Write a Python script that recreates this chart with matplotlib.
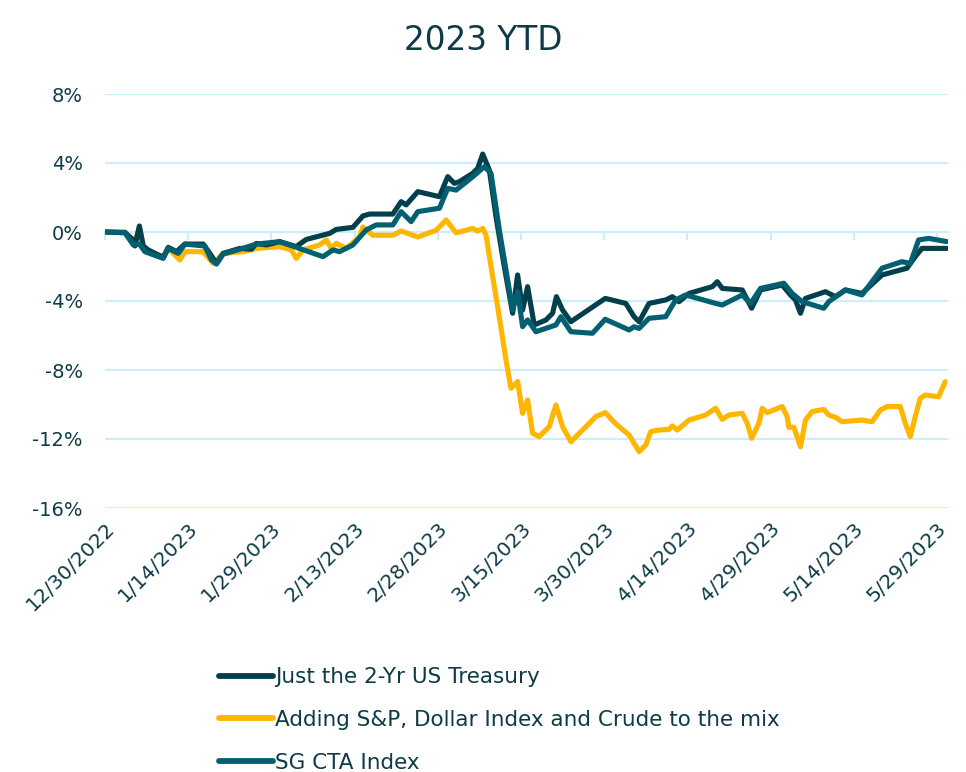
import matplotlib
matplotlib.use("Agg")
import matplotlib.pyplot as plt
from matplotlib.lines import Line2D

# ---- data (x = days since 12/30/2022, y = % return) ----
tick_labels = ["12/30/2022", "1/14/2023", "1/29/2023", "2/13/2023", "2/28/2023",
               "3/15/2023", "3/30/2023", "4/14/2023", "4/29/2023", "5/14/2023", "5/29/2023"]
tick_days = [0, 15, 30, 45, 60, 75, 90, 105, 120, 135, 150]

treasury_days = [0, 3.6, 5.1, 5.4, 6.2, 6.9, 7.8, 10.5, 11.4, 12.9, 14.4, 17.7, 18.9, 20.1,
                 21.3, 24.3, 26.4, 27.3, 29.1, 31.5, 34.5, 35.1, 36.3, 40.5, 41.7, 44.7,
                 46.5, 47.7, 51.9, 53.4, 54.3, 56.4, 60.3, 61.8, 63.0, 63.9, 66.3, 67.2,
                 68.1, 69.3, 70.5, 72.0, 73.5, 74.4, 75.3, 76.2, 77.4, 79.5, 80.7, 81.4,
                 82.5, 84.0, 90.2, 93.9, 95.4, 96.3, 98.1, 101.1, 102.3, 103.5, 105.3,
                 109.5, 110.4, 111.3, 114.9, 116.6, 118.2, 122.1, 123.6, 124.5, 125.4,
                 126.3, 129.9, 131.7, 133.5, 136.5, 140.1, 144.6, 146.1, 147.3, 151.8]
treasury_vals = [0, -0.03, -0.46, -0.81, 0.35, -0.81, -1.04, -1.47, -0.89, -1.14, -0.70, -0.70,
                 -1.24, -1.82, -1.24, -0.95, -1.0, -0.66, -0.75, -0.56, -0.85, -0.70, -0.43,
                 -0.08, 0.15, 0.27, 0.93, 1.04, 1.04, 1.76, 1.57, 2.34, 2.05, 3.21, 2.82, 2.92,
                 3.40, 3.69, 4.52, 3.59, 0.89, -2.01, -4.71, -2.49, -4.52, -3.17, -5.39, -5.10,
                 -4.71, -3.75, -4.52, -5.2, -3.85, -4.14, -4.91, -5.2, -4.14, -3.94, -3.75,
                 -4.04, -3.56, -3.17, -2.88, -3.27, -3.36, -4.42, -3.36, -3.07, -3.65, -3.94,
                 -4.71, -3.85, -3.46, -3.75, -3.36, -3.56, -2.49, -2.1, -1.43, -0.95, -0.95]

mix_days = [0, 3.6, 5.1, 5.7, 6.2, 6.9, 7.8, 10.5, 11.4, 13.5, 14.4, 17.7, 19.5, 21.3, 25.0,
            27.3, 31.5, 33.6, 34.5, 35.7, 38.7, 39.9, 40.8, 41.7, 43.5, 45.9, 46.5, 48.3,
            51.9, 53.4, 56.4, 59.7, 61.5, 63.3, 66.3, 67.2, 68.1, 68.7, 69.6, 70.8, 72.3,
            73.2, 74.4, 75.3, 76.2, 77.1, 78.3, 80.1, 81.3, 82.5, 84.0, 87.9, 88.5, 90.2,
            92.0, 94.5, 96.3, 97.5, 98.4, 99.9, 101.7, 102.3, 103.2, 105.3, 108.3, 110.1,
            111.3, 112.5, 114.9, 115.8, 116.6, 117.9, 118.5, 119.4, 122.1, 123.0, 123.3,
            124.2, 125.4, 126.3, 127.5, 129.6, 130.5, 131.7, 132.9, 136.5, 138.3, 139.8,
            141.0, 143.4, 144.3, 145.2, 146.1, 147.0, 147.9, 150.3, 151.5]
mix_vals = [0, 0, -0.58, -0.29, 0.29, -0.85, -1.14, -1.43, -0.95, -1.62, -1.14, -1.14, -1.82,
            -1.24, -1.14, -0.95, -0.85, -1.04, -1.53, -1.04, -0.75, -0.46, -0.95, -0.66,
            -0.95, -0.29, 0.29, -0.19, -0.19, 0.06, -0.29, 0.10, 0.70, -0.05, 0.21, 0.05,
            0.21, -0.17, -2.01, -4.33, -7.42, -9.06, -8.67, -10.51, -9.74, -11.67, -11.86,
            -11.28, -10.03, -11.28, -12.16, -10.9, -10.7, -10.47, -11.09, -11.77, -12.73,
            -12.35, -11.57, -11.48, -11.44, -11.24, -11.48, -10.9, -10.61, -10.22, -10.86,
            -10.61, -10.51, -11.09, -11.96, -11.09, -10.22, -10.47, -10.12, -10.7, -11.32,
            -11.32, -12.45, -10.9, -10.41, -10.28, -10.61, -10.74, -11.0, -10.9, -11.0,
            -10.32, -10.12, -10.12, -11.09, -11.86, -10.7, -9.64, -9.45, -9.55, -8.68]

cta_days = [0, 3.6, 5.1, 6.2, 7.2, 10.5, 11.4, 13.2, 14.4, 18.0, 19.2, 20.1, 21.3, 24.3, 27.3,
            31.5, 34.5, 39.3, 41.1, 42.3, 44.7, 47.1, 48.9, 51.9, 53.4, 55.2, 56.4, 60.3,
            61.8, 63.3, 66.3, 68.4, 69.6, 71.1, 73.5, 74.4, 75.3, 76.2, 77.7, 81.3, 82.2,
            84.0, 87.9, 90.2, 94.5, 95.4, 96.3, 98.1, 101.1, 102.9, 104.7, 110.1, 111.3,
            114.9, 116.4, 118.2, 122.4, 123.9, 125.7, 129.6, 130.5, 133.5, 136.5, 140.1,
            143.7, 145.2, 146.7, 148.5, 151.8]
cta_vals = [0, -0.05, -0.75, -0.70, -1.14, -1.53, -0.95, -1.24, -0.70, -0.81, -1.62, -1.86,
            -1.28, -1.0, -0.70, -0.56, -0.89, -1.43, -1.04, -1.14, -0.75, 0.12, 0.41, 0.41,
            1.18, 0.60, 1.18, 1.38, 2.53, 2.43, 3.2, 3.79, 3.4, 0.12, -4.52, -3.46, -5.49,
            -5.1, -5.78, -5.39, -4.91, -5.78, -5.87, -5.06, -5.68, -5.49, -5.59, -5.0,
            -4.91, -3.94, -3.65, -4.14, -4.23, -3.65, -4.14, -3.27, -2.97, -3.56, -4.04,
            -4.42, -4.04, -3.36, -3.65, -2.1, -1.72, -1.82, -0.46, -0.37, -0.56]

series_names = ["Just the 2-Yr US Treasury",
                "Adding S&P, Dollar Index and Crude to the mix",
                "SG CTA Index"]
y_ticks = [-16, -12, -8, -4, 0, 4, 8]

# ---- style ----
C_DARK = "#033F4C"
C_YELLOW = "#FFB600"
C_TEAL = "#036070"
C_TEXT = "#0D3B47"
C_GRID = "#C8F0FA"
FONT = "DejaVu Sans"
plt.rcParams["font.family"] = [FONT]

fig = plt.figure(figsize=(9.66, 7.72), dpi=100)
ax = fig.add_axes([105 / 966, 1 - 508 / 772, (948 - 105) / 966, (508 - 94) / 772])

lw = 3.7
ax.plot(mix_days, mix_vals, color=C_YELLOW, lw=lw, solid_joinstyle="round",
        solid_capstyle="round", zorder=3)
ax.plot(treasury_days, treasury_vals, color=C_DARK, lw=lw, solid_joinstyle="round",
        solid_capstyle="round", zorder=4)
ax.plot(cta_days, cta_vals, color=C_TEAL, lw=lw, solid_joinstyle="round",
        solid_capstyle="round", zorder=5)

ax.set_xlim(0, 152)
ax.set_ylim(-16, 8)
ax.set_yticks(y_ticks)
ax.set_yticklabels([f"{v}%" for v in y_ticks])
ax.grid(axis="y", color=C_GRID, lw=1.5)
ax.set_axisbelow(True)
for s in ["top", "right", "left"]:
    ax.spines[s].set_visible(False)
ax.spines["bottom"].set_position(("data", 0))
ax.spines["bottom"].set_color(C_GRID)
ax.spines["bottom"].set_linewidth(1.5)
ax.set_xticks(tick_days)
ax.tick_params(axis="x", length=6, width=1.5, color=C_GRID, labelbottom=False)
ax.tick_params(axis="y", length=0, labelsize=14, labelcolor=C_TEXT, pad=16)

sec = ax.secondary_xaxis("bottom")
sec.set_xticks(tick_days)
sec.set_xticklabels(tick_labels, rotation=45, ha="right", rotation_mode="anchor")
sec.tick_params(length=0, labelsize=14.5, labelcolor=C_TEXT, pad=8)
sec.spines["bottom"].set_visible(False)

fig.text(0.5, 1 - 40 / 772, "2023 YTD", ha="center", va="center", fontsize=23.5, color=C_TEXT)

handles = [Line2D([], [], color=c, lw=4.2, solid_capstyle="round")
           for c in (C_DARK, C_YELLOW, C_TEAL)]
leg = fig.legend(handles, series_names, loc="upper left",
                 bbox_to_anchor=(200 / 966, 1 - 648 / 772), frameon=False,
                 fontsize=15.5, handlelength=2.5, handletextpad=0.1, labelspacing=1.05)
for t in leg.get_texts():
    t.set_color(C_TEXT)

fig.savefig("out.png", dpi=100)
